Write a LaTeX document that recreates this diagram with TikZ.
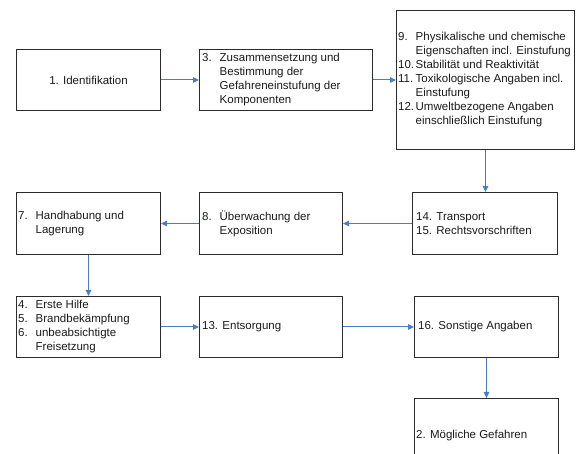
\documentclass[tikz,border=0pt]{standalone}
\usepackage{fontspec}
\setmainfont{Liberation Sans}
\usetikzlibrary{arrows.meta}
\definecolor{arrblue}{HTML}{4A7EC4}
\definecolor{boxline}{HTML}{2B2B2B}
\definecolor{txtcol}{HTML}{1A1A1A}
\newcommand{\fsz}{\fontsize{11.5pt}{14pt}\selectfont}
\newcommand{\hi}[2]{\makebox[17.5pt][l]{#1}#2}
\newcommand{\ct}{\hspace*{17.5pt}}
\begin{document}
\begin{tikzpicture}[x=1pt,y=-1pt,
  box/.style={draw=boxline, line width=1pt, anchor=north west, inner sep=0pt},
  txt/.style={anchor=west, inner sep=0pt, align=left, font=\fsz, text=txtcol},
  arr/.style={draw=arrblue, line width=1pt, -{Triangle[length=6pt,width=5.5pt]}}]
\useasboundingbox (0,0) rectangle (576,454);
\clip (0,0) rectangle (576,454);
% boxes
\node[box, minimum width=144pt, minimum height=61pt] (b1) at (16,49) {};
\node[box, minimum width=173pt, minimum height=61pt] (b3) at (199,49) {};
\node[box, minimum width=178pt, minimum height=139pt] (b9) at (396,10) {};
\node[box, minimum width=144pt, minimum height=62pt] (b7) at (16,192) {};
\node[box, minimum width=143pt, minimum height=62pt] (b8) at (199,192) {};
\node[box, minimum width=145pt, minimum height=62pt] (b14) at (412,192) {};
\node[box, minimum width=144pt, minimum height=61pt] (b4) at (16,296) {};
\node[box, minimum width=143pt, minimum height=61pt] (b13) at (199,296) {};
\node[box, minimum width=144pt, minimum height=61pt] (b16) at (414,296) {};
\node[box, minimum width=144pt, minimum height=70pt] (b2) at (414,398) {};
% texts
\node[txt, anchor=center] (t1) at (b1.center) {1. Identifikation};
\node[txt] (t3) at ([xshift=3pt]b3.west) {\hi{3.}{Zusammensetzung und}\\ \ct Bestimmung der\\ \ct Gefahreneinstufung der\\ \ct Komponenten};
\node[txt] (t9) at ([xshift=2pt]b9.west) {\hi{9.}{Physikalische und chemische}\\ \ct Eigenschaften incl. Einstufung\\ \hi{10.}{Stabilität und Reaktivität}\\ \hi{11.}{Toxikologische Angaben incl.}\\ \ct Einstufung\\ \hi{12.}{Umweltbezogene Angaben}\\ \ct einschließlich Einstufung};
\node[txt] (t7) at ([xshift=2pt]b7.west) {\hi{7.}{Handhabung und}\\ \ct Lagerung};
\node[txt] (t8) at ([xshift=3pt]b8.west) {\hi{8.}{Überwachung der}\\ \ct Exposition};
\node[txt] (t14) at ([xshift=4pt]b14.west) {14. Transport\\ 15. Rechtsvorschriften};
\node[txt] (t4) at ([xshift=2pt]b4.west) {\hi{4.}{Erste Hilfe}\\ \hi{5.}{Brandbekämpfung}\\ \hi{6.}{unbeabsichtigte}\\ \ct Freisetzung};
\node[txt] (t13) at ([xshift=3pt]b13.west) {13. Entsorgung};
\node[txt] (t16) at ([xshift=4pt]b16.west) {16. Sonstige Angaben};
\node[txt] (t2) at ([xshift=2pt,yshift=-2pt]b2.west) {2. Mögliche Gefahren};
% connectors
\draw[arr] (b1.east) -- (b3.west);
\draw[arr] (b3.east) -- (b9.west |- b3.east);
\draw[arr] (b9.south) -- (b9.south |- b14.north);
\draw[arr] (b14.west) -- (b8.east);
\draw[arr] (b8.west) -- (b7.east);
\draw[arr] (b7.south) -- (b4.north);
\draw[arr] (b4.east) -- (b13.west);
\draw[arr] (b13.east) -- (b16.west);
\draw[arr] (b16.south) -- (b2.north);
\end{tikzpicture}
\end{document}
